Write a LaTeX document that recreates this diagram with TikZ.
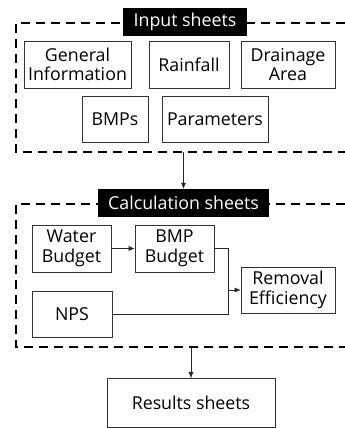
\documentclass[tikz,border=0pt]{standalone}
\usepackage{fontspec}
\setmainfont{Open Sans}
\usetikzlibrary{positioning,arrows.meta}

\begin{document}
\begin{tikzpicture}[x=1pt,y=-1pt,font=\fontsize{17.8}{19.5}\selectfont,
		sheet/.style={draw=black!80, line width=0.6pt, align=center, inner sep=1pt},
		title/.style={fill=black, text=white, inner sep=3pt, minimum height=28pt},
		group/.style={draw, line width=2pt, dash pattern=on 9pt off 6pt},
		link/.style={draw=black!85, line width=0.6pt, -{Latex[length=6pt,width=5pt]}}]

		\useasboundingbox (0,0) rectangle (345,428);

		% dashed groups
		\draw[group] (360,23) -- (16,23) -- (16,152) -- (360,152);
		\draw[group] (360,204) -- (16,204) -- (16,347) -- (360,347);

		% input sheets
		\node[title, minimum width=124pt] (inTitle) at (185,22) {Input sheets};
		\node[sheet, minimum width=107pt, minimum height=47pt] (general) at (77.5,64.5) {General\\Information};
		\node[sheet, minimum width=80pt, minimum height=47pt] (rain) at (189,64.5) {Rainfall};
		\node[sheet, minimum width=94pt, minimum height=47pt] (drain) at (288,64.5) {Drainage\\Area};
		\node[sheet, minimum width=66pt, minimum height=46pt] (bmps) at (115,119) {BMPs};
		\node[sheet, minimum width=106pt, minimum height=46pt] (param) at (215,119) {Parameters};

		% calculation sheets
		\node[title, minimum width=171pt] (calcTitle) at (183.5,203) {Calculation sheets};
		\node[sheet, minimum width=79pt, minimum height=47pt] (water) at (71.5,248.5) {Water\\Budget};
		\node[sheet, minimum width=79pt, minimum height=47pt] (bmpBudget) at (174.5,248.5) {BMP\\Budget};
		\node[sheet, minimum width=80pt, minimum height=46pt] (nps) at (72,314) {NPS};
		\node[sheet, minimum width=94pt, minimum height=46pt] (removal) at (288,290) {Removal\\Efficiency};
		\coordinate (junction) at (228,290);

		% results
		\node[sheet, minimum width=168pt, minimum height=49pt] (results) at (191,403) {Results sheets};

		\coordinate (inBottom) at (183.5,152);
		\coordinate (calcBottom) at (191,347);

		\draw[link] (inBottom) -- (calcTitle);
		\draw[link] (water) -- (bmpBudget);
		\draw[black!85, line width=0.6pt] (bmpBudget.east) -| (junction);
		\draw[black!85, line width=0.6pt] (nps.east) -| (junction);
		\draw[link] (junction) -- (removal);
		\draw[link] (calcBottom) -- (results);
	\end{tikzpicture}
\end{document}
